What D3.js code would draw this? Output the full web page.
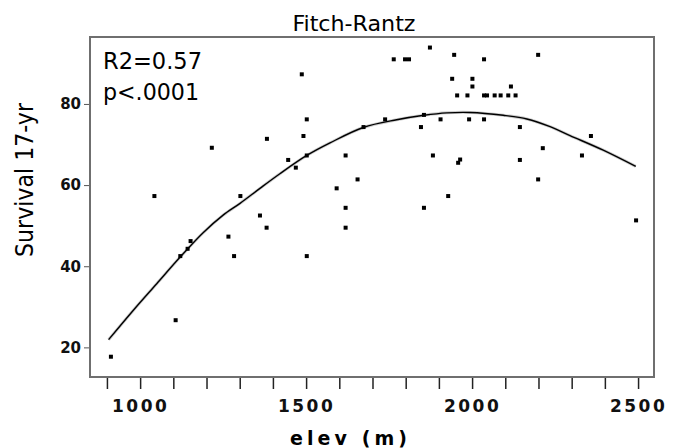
<!DOCTYPE html>
<html>
<head>
<meta charset="utf-8">
<script src="https://cdn.jsdelivr.net/npm/d3@7"></script>
<style>
  body { margin: 0; background: #fff; }
</style>
</head>
<body>
<div class="canva"></div>
<script>
// survival vs elevation
const elev = [912, 1043, 1107, 1121, 1143, 1152, 1216, 1266, 1283, 1302, 1361, 1381, 1382, 1446, 1469,
    1487, 1492, 1502, 1502, 1502, 1592, 1619, 1619, 1619, 1655, 1673, 1738, 1764, 1798, 1810, 1846,
    1855, 1855, 1873, 1882, 1905, 1928, 1940, 1946, 1955, 1958, 1964, 1986, 1991, 2001, 2001, 2036,
    2036, 2045, 2036, 2068, 2086, 2109, 2117, 2131, 2144, 2144, 2199, 2199, 2213, 2331, 2358, 2494];
const survival = [17.7, 57.3, 26.7, 42.5, 44.3, 46.2, 69.2, 47.3, 42.5, 57.3, 52.5, 49.5, 71.4, 66.2, 64.3,
    87.3, 72.1, 76.2, 67.3, 42.5, 59.2, 67.3, 54.4, 49.5, 61.4, 74.3, 76.2, 91.0, 91.0, 91.0, 74.3,
    77.3, 54.4, 93.9, 67.3, 76.2, 57.3, 86.2, 92.1, 82.1, 65.5, 66.3, 82.1, 76.2, 86.2, 84.3, 91.0,
    82.1, 82.1, 76.2, 82.1, 82.1, 82.1, 84.3, 82.1, 74.3, 66.2, 92.1, 61.4, 69.1, 67.3, 72.1, 51.3];

// fitted curve, sampled along the drawn line
const fitElev = [905, 979, 1050, 1120, 1189, 1250, 1301, 1361, 1421, 1502, 1572, 1672, 1773, 1855,
    1924, 1994, 2094, 2165, 2235, 2295, 2395, 2493];
const fitSurvival = [21.9, 29.1, 35.7, 42.2, 48.2, 52.6, 55.5, 59.2, 62.8, 67.3, 70.4, 74.2, 76.1, 77.2,
    77.8, 77.9, 77.2, 76.3, 74.4, 72.2, 68.6, 64.6];

const xTicks = d3.range(900, 2501, 100);
const xLabels = [1000, 1500, 2000, 2500];
const yTicks = [20, 40, 60, 80];

const svg = d3.select('.canva').append('svg')
    .attr('width', 678)
    .attr('height', 448);

const x = d3.scaleLinear().domain([849, 2548]).range([90, 654]);
const y = d3.scaleLinear().domain([12.7, 96.5]).range([377, 37]);

// x axis - ticks every 100, labels every 500
const xAxis = svg.append('g')
    .attr('transform', 'translate(0,377)')
    .call(d3.axisBottom(x)
        .tickValues(xTicks)
        .tickSize(12)
        .tickFormat(d => xLabels.includes(d) ? d : ''));
xAxis.select('.domain').remove();
xAxis.selectAll('line').attr('stroke', '#222').attr('stroke-width', 1.5);
xAxis.selectAll('text')
    .attr('y', 35).attr('dy', 0)
    .attr('fill', '#111')
    .style('font-family', '"DejaVu Sans", sans-serif')
    .style('font-weight', 'bold')
    .style('font-size', '17px')
    .style('letter-spacing', '2.5px');

const yAxis = svg.append('g')
    .attr('transform', 'translate(90,0)')
    .call(d3.axisLeft(y).tickValues(yTicks).tickSize(6).tickPadding(3));
yAxis.select('.domain').remove();
yAxis.selectAll('line').attr('stroke', '#555').attr('stroke-width', 1);
yAxis.selectAll('text')
    .attr('fill', '#111')
    .style('font-family', '"DejaVu Sans", sans-serif')
    .style('font-weight', 'bold')
    .style('font-size', '15px');

// frame
svg.append('rect')
    .attr('x', 90).attr('y', 37)
    .attr('width', 564).attr('height', 340)
    .attr('fill', 'none')
    .attr('stroke', '#6f6f6f')
    .attr('stroke-width', 2);

// fit line
const line = d3.line()
    .x((d, i) => x(fitElev[i]))
    .y(d => y(d))
    .curve(d3.curveCatmullRom);

svg.append('path')
    .attr('d', line(fitSurvival))
    .attr('fill', 'none')
    .attr('stroke', '#ccc')
    .attr('stroke-width', 3);
svg.append('path')
    .attr('d', line(fitSurvival))
    .attr('fill', 'none')
    .attr('stroke', '#000')
    .attr('stroke-width', 1.4);

svg.selectAll('rect.pt')
    .data(survival)
    .enter().append('rect')
    .attr('class', 'pt')
    .attr('x', (d, i) => x(elev[i]) - 2)
    .attr('y', d => y(d) - 2)
    .attr('width', 4)
    .attr('height', 4)
    .attr('fill', '#000');

// texts
svg.append('text')
    .attr('x', 354).attr('y', 31)
    .attr('text-anchor', 'middle')
    .attr('textLength', 123).attr('lengthAdjust', 'spacingAndGlyphs')
    .style('font-family', '"DejaVu Sans Condensed", "Liberation Sans Narrow", sans-serif')
    .style('font-size', '22px')
    .text('Fitch-Rantz');

svg.append('text')
    .attr('x', 103).attr('y', 69)
    .attr('textLength', 99).attr('lengthAdjust', 'spacingAndGlyphs')
    .style('font-family', '"DejaVu Sans Condensed", sans-serif')
    .style('font-size', '23px')
    .text('R2=0.57');

svg.append('text')
    .attr('x', 103).attr('y', 100)
    .attr('textLength', 96).attr('lengthAdjust', 'spacingAndGlyphs')
    .style('font-family', '"DejaVu Sans Condensed", sans-serif')
    .style('font-size', '23px')
    .text('p<.0001');

svg.append('text')
    .attr('x', 290).attr('y', 445)
    .attr('textLength', 117).attr('lengthAdjust', 'spacing')
    .style('font-family', '"DejaVu Sans", sans-serif')
    .style('font-weight', 'bold')
    .style('font-size', '19px')
    .text('elev (m)');

svg.append('text')
    .attr('transform', 'translate(33,257) rotate(-90)')
    .attr('textLength', 154).attr('lengthAdjust', 'spacingAndGlyphs')
    .style('font-family', '"DejaVu Sans Condensed", sans-serif')
    .style('font-size', '24px')
    .text('Survival 17-yr');
</script>
</body>
</html>
